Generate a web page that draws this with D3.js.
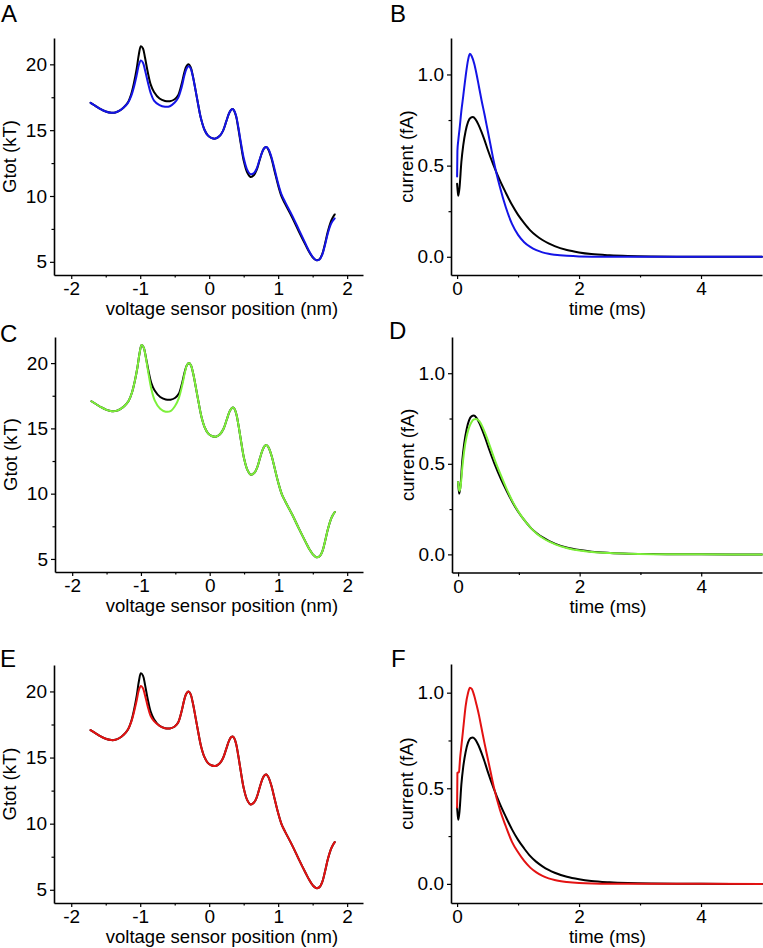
<!DOCTYPE html>
<html>
<head>
<meta charset="utf-8">
<script src="https://cdn.jsdelivr.net/npm/d3@7/dist/d3.min.js"></script>
<style>
  html, body { margin: 0; padding: 0; background: #fff; }
  svg { display: block; font-family: "Liberation Sans", Arial, Helvetica, sans-serif; }
</style>
</head>
<body>
<svg id="chart" width="763" height="948"></svg>
<script>
// ---------------- DATA ----------------
// Energy landscape: voltage sensor position (nm)
const xPos = [-1.72, -1.65, -1.58, -1.5, -1.42, -1.36, -1.3, -1.24, -1.18, -1.13,
  -1.09, -1.05, -1.02, -0.99, -0.96, -0.93, -0.89, -0.85, -0.8, -0.72,
  -0.64, -0.57, -0.5, -0.45, -0.4, -0.36, -0.33, -0.3, -0.27, -0.24,
  -0.2, -0.16, -0.12, -0.07, -0.02, 0.03, 0.09, 0.15, 0.2, 0.25,
  0.29, 0.32, 0.34, 0.36, 0.39, 0.42, 0.46, 0.5, 0.55, 0.6,
  0.65, 0.69, 0.73, 0.77, 0.8, 0.83, 0.86, 0.9, 0.95, 1.0,
  1.05, 1.1, 1.2, 1.3, 1.4, 1.45, 1.5, 1.55, 1.6, 1.64,
  1.68, 1.72, 1.76, 1.79, 1.82];

// Gtot (kT), reference (black)
const gBlack = [17.08, 16.85, 16.62, 16.42, 16.32, 16.34, 16.48, 16.72, 17.1, 17.75,
  18.6, 19.7, 20.75, 21.38, 21.2, 20.5, 19.4, 18.5, 17.9, 17.4,
  17.22, 17.2, 17.35, 17.65, 18.5, 19.4, 19.85, 20.0, 19.8, 19.2,
  18.1, 16.95, 15.9, 15.05, 14.6, 14.42, 14.36, 14.55, 14.95, 15.7,
  16.3, 16.55, 16.6, 16.5, 16.05, 15.2, 13.9, 12.7, 11.8, 11.45,
  11.6, 12.0, 12.7, 13.35, 13.65, 13.72, 13.5, 12.9, 11.85, 10.8,
  9.95, 9.4, 8.4, 7.3, 6.25, 5.75, 5.35, 5.13, 5.2, 5.6,
  6.4, 7.3, 8.0, 8.35, 8.6];

// Gtot (kT), blue (panel A)
const gBlue = [17.08, 16.85, 16.62, 16.42, 16.32, 16.34, 16.48, 16.72, 17.05, 17.6,
  18.3, 19.2, 19.95, 20.3, 20.12, 19.55, 18.65, 17.85, 17.25, 16.9,
  16.78, 16.82, 17.1, 17.45, 18.25, 19.15, 19.65, 19.85, 19.7, 19.15,
  18.1, 16.95, 15.9, 15.05, 14.6, 14.42, 14.36, 14.55, 14.95, 15.7,
  16.3, 16.55, 16.6, 16.5, 16.1, 15.3, 14.05, 12.9, 12.0, 11.65,
  11.75, 12.1, 12.75, 13.35, 13.65, 13.72, 13.55, 13.0, 12.0, 10.95,
  10.1, 9.55, 8.55, 7.45, 6.35, 5.8, 5.38, 5.13, 5.18, 5.55,
  6.3, 7.15, 7.8, 8.1, 8.3];

// Gtot (kT), green (panel C)
const gGreen = [17.08, 16.85, 16.62, 16.42, 16.32, 16.34, 16.48, 16.72, 17.1, 17.75,
  18.6, 19.7, 20.75, 21.38, 21.2, 20.45, 19.2, 18.05, 17.15, 16.5,
  16.28, 16.32, 16.75, 17.3, 18.3, 19.3, 19.85, 20.0, 19.8, 19.2,
  18.1, 16.95, 15.9, 15.05, 14.6, 14.42, 14.36, 14.55, 14.95, 15.7,
  16.3, 16.55, 16.6, 16.5, 16.05, 15.2, 13.9, 12.7, 11.8, 11.45,
  11.6, 12.0, 12.7, 13.35, 13.65, 13.72, 13.5, 12.9, 11.85, 10.8,
  9.95, 9.4, 8.4, 7.3, 6.25, 5.75, 5.35, 5.13, 5.2, 5.6,
  6.4, 7.3, 8.0, 8.35, 8.6];

// Gtot (kT), red (panel E)
const gRed = [17.08, 16.85, 16.62, 16.42, 16.32, 16.34, 16.48, 16.72, 17.1, 17.7,
  18.45, 19.35, 20.1, 20.42, 20.25, 19.7, 18.85, 18.15, 17.75, 17.4,
  17.22, 17.2, 17.35, 17.65, 18.5, 19.4, 19.85, 20.0, 19.8, 19.2,
  18.1, 16.95, 15.9, 15.05, 14.6, 14.42, 14.36, 14.55, 14.95, 15.7,
  16.3, 16.55, 16.6, 16.5, 16.05, 15.2, 13.9, 12.7, 11.8, 11.45,
  11.6, 12.0, 12.7, 13.35, 13.65, 13.72, 13.5, 12.9, 11.85, 10.8,
  9.95, 9.4, 8.4, 7.3, 6.25, 5.75, 5.35, 5.13, 5.2, 5.6,
  6.4, 7.3, 8.0, 8.35, 8.6];

// Currents: time (ms) and current (fA)
const tRef = [0, 0.01, 0.02, 0.04, 0.07, 0.1, 0.14, 0.18, 0.22, 0.26,
  0.3, 0.35, 0.4, 0.45, 0.5, 0.6, 0.7, 0.8, 0.9, 1.0,
  1.1, 1.2, 1.3, 1.4, 1.5, 1.6, 1.8, 2.0, 2.2, 2.5,
  2.8, 3.2, 3.6, 4.0, 4.5, 5.0];
const iBlack = [0.40, 0.36, 0.335, 0.38, 0.52, 0.61, 0.69, 0.74, 0.762, 0.766,
  0.755, 0.725, 0.685, 0.64, 0.59, 0.50, 0.42, 0.35, 0.285, 0.23,
  0.185, 0.145, 0.115, 0.092, 0.073, 0.058, 0.037, 0.024, 0.015, 0.008,
  0.004, 0.0015, 0.0005, 0.0002, 0, 0];
const iGreen = [0.40, 0.37, 0.35, 0.37, 0.48, 0.57, 0.65, 0.70, 0.73, 0.745,
  0.748, 0.735, 0.705, 0.665, 0.62, 0.525, 0.44, 0.36, 0.29, 0.232,
  0.185, 0.145, 0.113, 0.089, 0.07, 0.055, 0.034, 0.021, 0.013, 0.007,
  0.0035, 0.0012, 0.0004, 0.0001, 0, 0];

const tBlue = [0, 0.005, 0.02, 0.04, 0.07, 0.1, 0.14, 0.18, 0.21, 0.24,
  0.28, 0.32, 0.36, 0.4, 0.45, 0.5, 0.55, 0.6, 0.7, 0.8,
  0.9, 1.0, 1.1, 1.2, 1.3, 1.4, 1.5, 1.6, 1.8, 2.0,
  2.5, 3.0, 5.0];
const iBlue = [0.44, 0.58, 0.64, 0.70, 0.80, 0.88, 0.99, 1.08, 1.113, 1.10,
  1.06, 1.0, 0.93, 0.86, 0.78, 0.695, 0.61, 0.525, 0.385, 0.27,
  0.18, 0.12, 0.08, 0.054, 0.036, 0.024, 0.016, 0.011, 0.005, 0.002,
  0.0003, 0, 0];

const tRed = [0, 0.005, 0.03, 0.05, 0.07, 0.1, 0.14, 0.18, 0.21, 0.24,
  0.28, 0.32, 0.36, 0.4, 0.45, 0.5, 0.55, 0.6, 0.7, 0.8,
  0.9, 1.0, 1.1, 1.2, 1.3, 1.4, 1.5, 1.6, 1.8, 2.0,
  2.5, 3.0, 5.0];
const iRed = [0.40, 0.58, 0.585, 0.66, 0.72, 0.81, 0.93, 1.0, 1.026, 1.02,
  0.985, 0.935, 0.88, 0.815, 0.735, 0.66, 0.585, 0.51, 0.39, 0.30,
  0.22, 0.165, 0.12, 0.085, 0.06, 0.042, 0.029, 0.02, 0.01, 0.005,
  0.001, 0.0002, 0];

// Ticks
const posTicks = [-2, -1, 0, 1, 2];
const posMinor = [-1.5, -0.5, 0.5, 1.5];
const gTicks = [5, 10, 15, 20];
const gMinor = [7.5, 12.5, 17.5];
const tTicks = [0, 2, 4];
const tMinor = [1, 3];
const iTicks = [0.0, 0.5, 1.0];
const iMinor = [0.25, 0.75];

const posLabel = "voltage sensor position (nm)";
const gLabel = "Gtot (kT)";
const tLabel = "time (ms)";
const iLabel = "current (fA)";

// Colours
const cBlack = "#000000", cBlue = "#1414e6", cGreen = "#7df03a", cRed = "#e31212";

// ---------------- LAYOUT ----------------
const svg = d3.select("#chart");

const landscape = (letter, box, col, vals) => ({
  letter, box,
  xDom: [-2.25, 2.23], yDom: [4, 22],
  xT: posTicks, xM: posMinor, yT: gTicks, yM: gMinor,
  xFmt: d => String(d), yFmt: d => String(d),
  xLab: posLabel, yLab: gLabel,
  series: [
    { x: xPos, y: gBlack, color: cBlack },
    { x: xPos, y: vals, color: col }
  ],
  curve: d3.curveCatmullRom.alpha(0.5)
});
const current = (letter, box, yMax, tx, iy, col) => ({
  letter, box,
  xDom: [-0.1, 5.0], yDom: [-0.1, yMax],
  xT: tTicks, xM: tMinor, yT: iTicks, yM: iMinor,
  xFmt: d => String(d), yFmt: d3.format(".1f"),
  xLab: tLabel, yLab: iLabel,
  series: [
    { x: tRef, y: iBlack, color: cBlack },
    { x: tx, y: iy, color: col }
  ],
  curve: d3.curveMonotoneX
});

const panels = [
  landscape("A", { l: 54, r: 363, t: 38, b: 275, lx: 1, ly: 22 }, cBlue, gBlue),
  current("B", { l: 451, r: 762, t: 38, b: 275, lx: 390, ly: 22 }, 1.2, tBlue, iBlue, cBlue),
  landscape("C", { l: 55, r: 363, t: 337, b: 572, lx: 0, ly: 342 }, cGreen, gGreen),
  current("D", { l: 452, r: 762, t: 337, b: 572.5, lx: 389, ly: 339 }, 1.2, tRef, iGreen, cGreen),
  landscape("E", { l: 54, r: 363, t: 665, b: 903, lx: 0, ly: 667 }, cRed, gRed),
  current("F", { l: 451, r: 762, t: 664, b: 903, lx: 391, ly: 667 }, 1.15, tRed, iRed, cRed)
];

panels.forEach(p => {
  const B = p.box;
  const x = d3.scaleLinear().domain(p.xDom).range([B.l, B.r]);
  const y = d3.scaleLinear().domain(p.yDom).range([B.b, B.t]);
  const g = svg.append("g");

  // lines
  const line = (s) => d3.line()
    .x((d, i) => x(s.x[i]))
    .y((d, i) => y(s.y[i]))
    .curve(p.curve);
  p.series.forEach(s => {
    g.append("path")
      .datum(s.y)
      .attr("d", line(s))
      .attr("fill", "none")
      .attr("stroke", s.color)
      .attr("stroke-width", 2)
      .attr("stroke-linejoin", "round")
      .attr("stroke-linecap", "round");
  });

  // x axis
  const xa = g.append("g").attr("transform", `translate(0,${B.b})`)
    .call(d3.axisBottom(x).tickValues(p.xT).tickSize(4).tickSizeOuter(0)
      .tickPadding(3).tickFormat(p.xFmt));
  const xm = g.append("g").attr("transform", `translate(0,${B.b})`)
    .call(d3.axisBottom(x).tickValues(p.xM).tickSize(2.5).tickSizeOuter(0).tickFormat(""));
  xm.select(".domain").remove();

  // y axis
  const ya = g.append("g").attr("transform", `translate(${B.l},0)`)
    .call(d3.axisLeft(y).tickValues(p.yT).tickSize(4).tickSizeOuter(0)
      .tickPadding(3).tickFormat(p.yFmt));
  const ym = g.append("g").attr("transform", `translate(${B.l},0)`)
    .call(d3.axisLeft(y).tickValues(p.yM).tickSize(2.5).tickSizeOuter(0).tickFormat(""));
  ym.select(".domain").remove();

  [xa, ya, xm, ym].forEach(a => {
    a.selectAll(".domain").attr("stroke", "#000").attr("stroke-width", 1.6);
    a.selectAll(".tick line").attr("stroke", "#000").attr("stroke-width", 1.2);
    a.selectAll(".tick text")
      .attr("fill", "#000")
      .style("font-family", '"Liberation Sans", Arial, sans-serif')
      .style("font-size", "19px");
  });

  // axis titles
  const isPos = p.xLab === posLabel;
  g.append("text")
    .attr("x", isPos ? 222 : (B.l + B.r) / 2 + 1)
    .attr("y", B.b + 40)
    .attr("text-anchor", "middle")
    .style("font-size", "18.5px")
    .text(p.xLab);

  g.append("text")
    .attr("transform", `translate(${B.l - 38},${(B.t + B.b) / 2}) rotate(-90)`)
    .attr("text-anchor", "middle")
    .style("font-size", "18.5px")
    .text(p.yLab);

  // panel letter
  g.append("text")
    .attr("x", B.lx)
    .attr("y", B.ly)
    .style("font-size", "24px")
    .text(p.letter);
});
</script>
</body>
</html>
